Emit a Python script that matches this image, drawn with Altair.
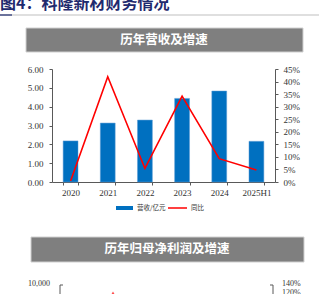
import altair as alt
import pandas as pd

years = ["2020", "2021", "2022", "2023", "2024", "2025H1"]
revenue = [2.18, 3.13, 3.29, 4.44, 4.83, 2.16]
yoy = [0.004, 0.419, 0.054, 0.342, 0.093, 0.048]

left_ticks = [0, 1, 2, 3, 4, 5, 6]
right_ticks = [0, 0.05, 0.10, 0.15, 0.20, 0.25, 0.30, 0.35, 0.40, 0.45]

df = pd.DataFrame({"year": years, "revenue": revenue, "yoy": yoy})
one = pd.DataFrame({"k": [0]})

SERIF = "Liberation Serif"
CJK = "Noto Sans CJK SC"
AX = "#595959"

xenc = alt.X("year:N", sort=years,
             scale=alt.Scale(paddingInner=0.6, paddingOuter=0.3),
             axis=alt.Axis(title=None, labelAngle=0, labelFont=SERIF, labelFontSize=9,
                           labelColor="#333333", domainColor=AX, tickColor=AX,
                           tickSize=3, tickBand="extent", labelPadding=3))

bars = alt.Chart(df).mark_bar(color="#0070C0", stroke="#5B9BD5", strokeWidth=0.5).encode(
    x=xenc,
    y=alt.Y("revenue:Q", scale=alt.Scale(domain=[0, 6], nice=False),
            axis=alt.Axis(title=None, values=left_ticks, format=".2f", grid=False,
                          labelFont=SERIF, labelFontSize=9, labelColor="#333333",
                          domainColor=AX, tickColor=AX, tickSize=3, labelPadding=6)),
)

line = alt.Chart(df).mark_line(color="#FF0000", strokeWidth=1.6).encode(
    x=alt.X("year:N", sort=years),
    y=alt.Y("yoy:Q", scale=alt.Scale(domain=[0, 0.45], nice=False),
            axis=alt.Axis(title=None, orient="right", values=right_ticks, format=".0%",
                          grid=False, labelFont=SERIF, labelFontSize=9,
                          labelColor="#333333", domainColor=AX, tickColor=AX,
                          tickSize=3, labelPadding=5)),
)

main = alt.layer(bars, line).resolve_scale(y="independent")

def rect(x, x2, y, y2, fill, stroke=None):
    kw = {"fill": fill}
    if stroke:
        kw.update(stroke=stroke, strokeWidth=1)
    return alt.Chart(one).mark_rect(**kw).encode(
        x=alt.value(x), x2=alt.value(x2), y=alt.value(y), y2=alt.value(y2))

def txt(x, y, s, size, color, font, bold=False, align="left", baseline="middle"):
    return alt.Chart(one).mark_text(fontSize=size, color=color, font=font,
                                    fontWeight="bold" if bold else "normal",
                                    align=align, baseline=baseline).encode(
        x=alt.value(x), y=alt.value(y), text=alt.value(s))

def rule(x, x2, y, y2, color, w=1):
    return alt.Chart(one).mark_rule(color=color, strokeWidth=w).encode(
        x=alt.value(x), x2=alt.value(x2), y=alt.value(y), y2=alt.value(y2))

deco = [
    txt(-52, -57, "图4：科隆新材财务情况", 16, "#1F2A6E", CJK, bold=True, baseline="bottom"),
    rule(-52, 267, -54, -54, "#BFBFBF"),
    rule(-52, -40, -54, -54, "#1F2A6E", 1.2),
    rect(-26, 251, -41, -17, "#7F7F7F", "#D0D0D0"),
    txt(112, -29, "历年营收及增速", 12.5, "white", CJK, bold=True, align="center"),
    rect(64, 81, 137, 141, "#0070C0"),
    txt(85, 139, "营收/亿元", 6.5, "#333333", CJK),
    rule(116, 135, 139, 139, "#FF0000", 1.5),
    txt(139, 139, "同比", 6.5, "#333333", CJK),
    rect(-21, 252, 168, 193, "#7F7F7F", "#D0D0D0"),
    txt(115, 180, "历年归母净利润及增速", 12.5, "white", CJK, bold=True, align="center"),
    txt(-2, 215, "10,000", 8, "#333333", SERIF, align="right"),
    rule(8, 8, 216, 230, AX),
    rule(8, 11, 216, 216, AX),
    rule(221, 221, 216, 230, AX),
    rule(218, 221, 216, 216, AX),
    txt(230, 215, "140%", 8, "#333333", SERIF),
    txt(230, 224, "120%", 8, "#333333", SERIF),
    alt.Chart(one).mark_point(shape="triangle-up", filled=True, color="#FF0000", size=12).encode(
        x=alt.value(61), y=alt.value(224)),
]

chart = alt.layer(main, *deco).properties(
    width=223, height=113,
    padding={"left": 52, "top": 69, "right": 44, "bottom": 112},
    autosize=alt.AutoSizeParams(type="none"),
).configure_view(stroke=None)

chart.save("out.html", embed_options={"renderer": "svg", "actions": False})
